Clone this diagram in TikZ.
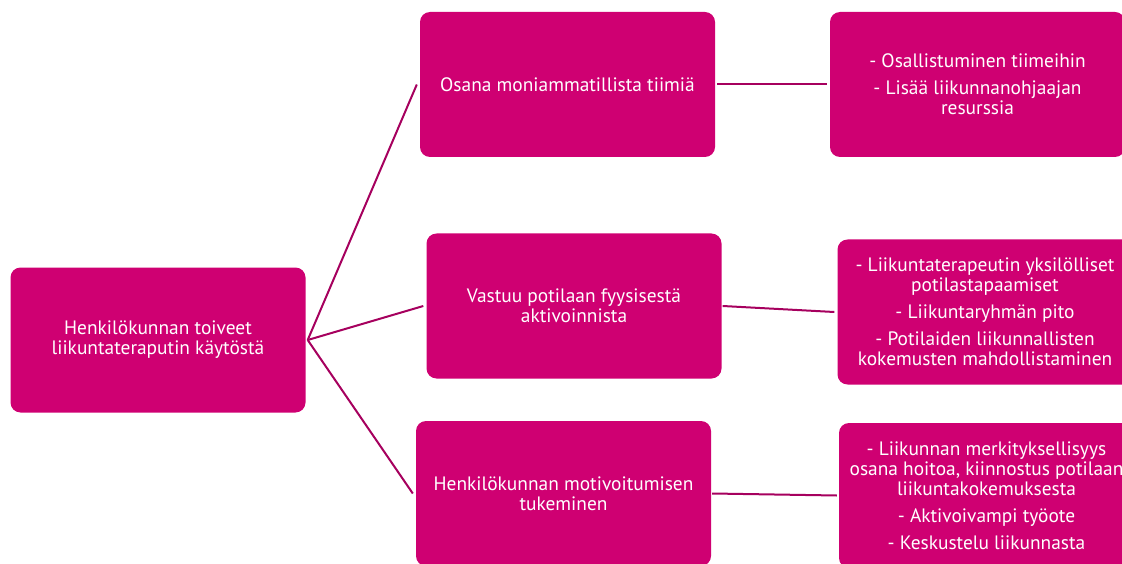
\documentclass[tikz,border=0pt]{standalone}
\usepackage{fontspec}
\setmainfont{PT Sans}
\definecolor{boxfill}{HTML}{CF0072}
\definecolor{linkcol}{HTML}{A6005E}
\begin{document}
\begin{tikzpicture}[x=1pt,y=-1pt,
  card/.style={fill=boxfill, rounded corners=10pt, minimum width=295pt,
    minimum height=145pt, inner sep=0pt, align=center, text=white,
    font=\fontsize{19.4}{20}\selectfont},
  conn/.style={draw=linkcol, line width=2pt}]
  \useasboundingbox (0,0) rectangle (1122,564);
  \clip (0,0) rectangle (1122,564);
  % card centres
  \coordinate (rootc) at (158,340);
  \coordinate (a1c) at (567.5,84.5);
  \coordinate (a2c) at (574,306);
  \coordinate (a3c) at (563.5,493.5);
  \coordinate (b1c) at (977.5,84.5);
  \coordinate (b2c) at (985,312);
  \coordinate (b3c) at (986.5,495.5);

  \node[card] (root) at (rootc) {Henkilökunnan toiveet\\liikuntateraputin käytöstä};
  \node[card] (a1) at (a1c) {Osana moniammatillista tiimiä};
  \node[card] (a2) at (a2c) {Vastuu potilaan fyysisestä\\aktivoinnista};
  \node[card] (a3) at (a3c) {Henkilökunnan motivoitumisen\\tukeminen};
  \node[card] (b1) at (b1c) {- Osallistuminen tiimeihin\\[7pt]- Lisää liikunnanohjaajan\\resurssia};
  \node[card] (b2) at (b2c) {- Liikuntaterapeutin yksilölliset\\potilastapaamiset\\[7pt]- Liikuntaryhmän pito\\[7pt]- Potilaiden liikunnallisten\\kokemusten mahdollistaminen};
  \node[card] (b3) at (b3c) {- Liikunnan merkityksellisyys\\osana hoitoa, kiinnostus potilaan\\liikuntakokemuksesta\\[7pt]- Aktivoivampi työote\\[7pt]- Keskustelu liikunnasta};

  % links between the cards
  \draw[conn] ([xshift=2pt]root.east) -- ([xshift=-3pt]a1.west);
  \draw[conn] ([xshift=2pt]root.east) -- ([xshift=-3pt]a2.west);
  \draw[conn] ([xshift=2pt]root.east) -- ([xshift=-3pt]a3.west);
  \draw[conn] ([xshift=2pt]a1.east) -- ([xshift=-3pt]b1.west);
  \draw[conn] ([xshift=1pt]a2.east) -- ([xshift=-3pt]b2.west);
  \draw[conn] ([xshift=1pt]a3.east) -- ([xshift=-2pt]b3.west);
\end{tikzpicture}
\end{document}
